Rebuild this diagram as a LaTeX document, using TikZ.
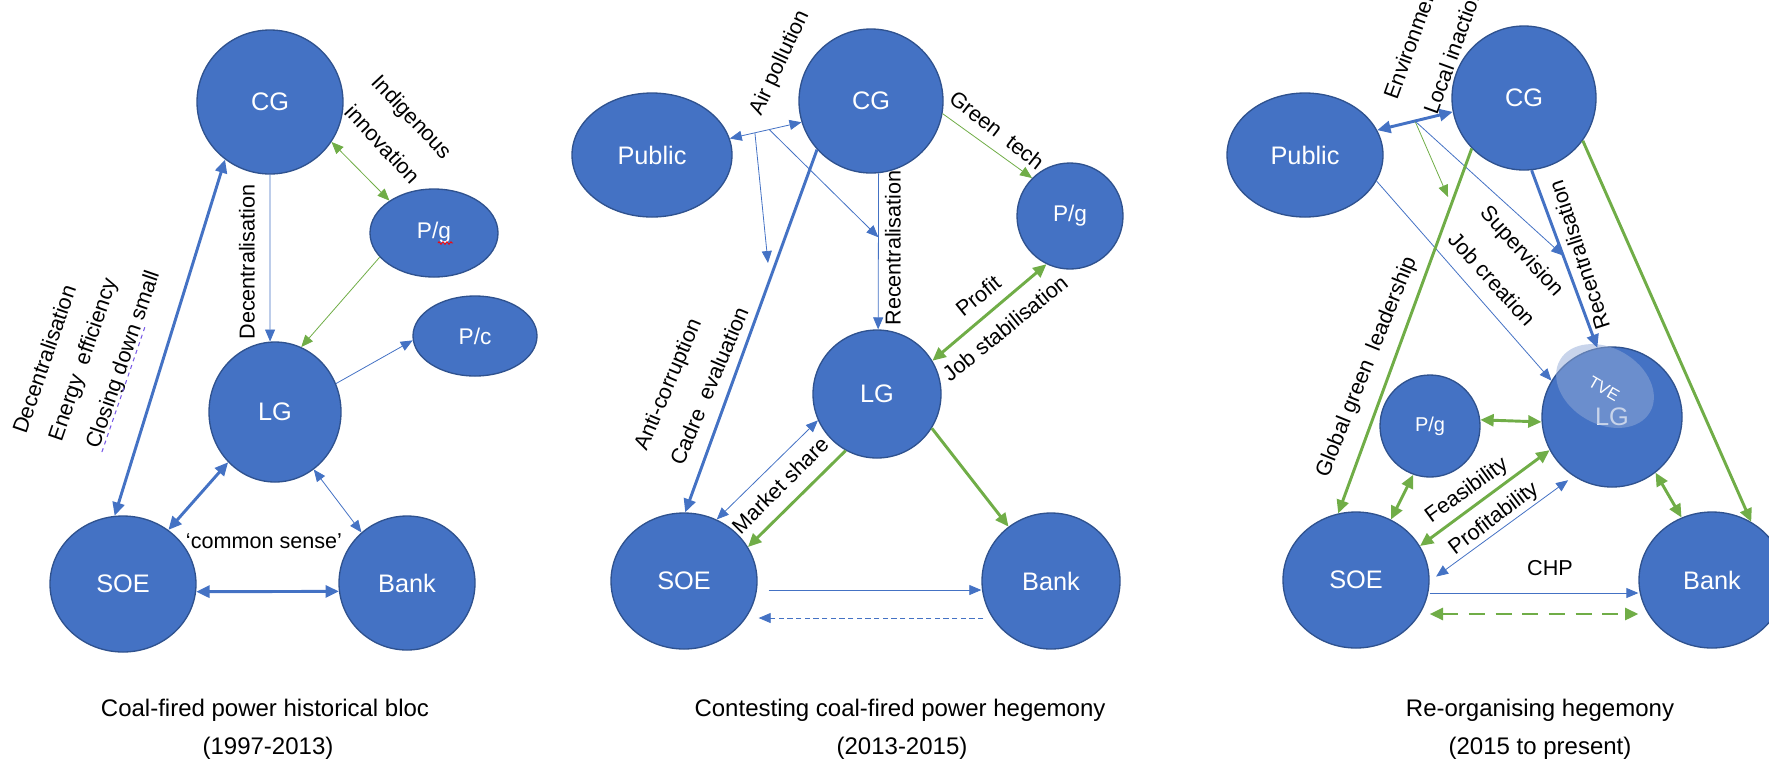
\documentclass[tikz,border=0pt]{standalone}
\usepackage{fontspec}
\setmainfont{Liberation Sans}
\usetikzlibrary{shapes.geometric,arrows.meta,calc,decorations.pathmorphing}
\definecolor{bfill}{HTML}{4472C4}
\definecolor{bline}{HTML}{2F528F}
\definecolor{ablue}{HTML}{4472C4}
\definecolor{agreen}{HTML}{70AD47}
\definecolor{tveover}{RGB}{146,170,215}
\definecolor{ulviolet}{RGB}{120,90,230}
\newcommand\nfont{\fontsize{19}{22}\selectfont}
\newcommand\pfont{\fontsize{17}{20}\selectfont}
\newcommand\lfont{\fontsize{16.2}{19}\selectfont}
\newcommand\tfont{\fontsize{18}{22}\selectfont}
\tikzset{
  actor/.style 2 args={ellipse, draw=bline, line width=1pt, fill=bfill, text=white,
    inner sep=0pt, minimum width=#1*1.5pt, minimum height=#2*1.5pt, font=\nfont},
  lbl/.style={font=\lfont, inner sep=0pt},
  ttl/.style={font=\tfont, inner sep=0pt},
  thinB/.style={draw=ablue, line width=0.6pt},
  thickB/.style={draw=ablue, line width=2.2pt},
  thinG/.style={draw=agreen, line width=0.6pt},
  thickG/.style={draw=agreen, line width=2.2pt},
  sarr/.style={-{Triangle[length=9pt,width=7.5pt]}},
  darr/.style={{Triangle[length=9pt,width=7.5pt]}-{Triangle[length=9pt,width=7.5pt]}},
  sarrT/.style={-{Triangle[length=10pt,width=9pt]}},
  darrT/.style={{Triangle[length=10pt,width=9pt]}-{Triangle[length=10pt,width=9pt]}}
}
\begin{document}
\begin{tikzpicture}[x=0.75pt,y=-0.75pt]
\useasboundingbox (0,0) rectangle (1769,769);
\begin{scope}
\clip (0,0) rectangle (1769,769);
% ---------------- Panel 1 ----------------
\node[actor={73}{72}] (cgA) at (270,102) {CG};
\node[actor={64}{44}, font=\pfont] (pgA) at (434,233) {P/g};
\node[actor={62}{40}, font=\pfont] (pcA) at (475,336) {P/c};
\node[actor={66}{70}] (lgA) at (275,412) {LG};
\node[actor={73}{68}] (soeA) at (123,584) {SOE};
\node[actor={68}{67}] (bankA) at (407,583) {Bank};
\draw[red, line width=0.6pt, decorate, decoration={zigzag, segment length=3pt, amplitude=1pt}]
  ([shift={(4,10)}]pgA.center) -- ([shift={(19,10)}]pgA.center);

\draw[thickB, darrT] (soeA.97) -- (cgA.232);
\draw[thinB, sarr] (cgA.270) -- (lgA.94);
\draw[thinG, darr] (cgA.327) -- (pgA.144);
\draw[thinG, sarr] (pgA.204) -- (lgA.68);
\draw[thinB, sarr] (lgA.25) -- (pcA.184);
\draw[thickB, darrT] (lgA.227) -- (soeA.50);
\draw[thinB, darr] (lgA.304) -- (bankA.132);
\draw[thickB, darrT] (soeA.354) -- (bankA.187);

\node[lbl, rotate=71] (l1a) at (44,359) {Decentralisation};
\node[lbl, rotate=71] (l1b) at (84,360) {Energy\ \ efficiency};
\node[lbl, rotate=71] (l1c) at (124,360) {Closing down small};
\draw[ulviolet, dashed, line width=0.8pt] ([shift={(3,2)}]l1c.base west) -- ++(43,-125);
\node[lbl, rotate=90] (l1d) at (247,262) {Decentralisation};
\node[lbl, rotate=-47] (l1e) at (411,118) {Indigenous};
\node[lbl, rotate=-47] (l1f) at (383,144) {innovation};
\node[lbl] (l1g) at (264,541) {‘common sense’};
\node[ttl] (t1a) at (265,710) {Coal-fired power historical bloc};
\node[ttl] (t1b) at (268,748) {(1997-2013)};

% ---------------- Panel 2 ----------------
\node[actor={80}{62}] (pubB) at (652,155) {Public};
\node[actor={72}{72}] (cgB) at (871,101) {CG};
\node[actor={53}{53}, font=\pfont] (pgB) at (1070,216) {P/g};
\node[actor={64}{64}] (lgB) at (877,394) {LG};
\node[actor={73}{68}] (soeB) at (684,581) {SOE};
\node[actor={69}{68}] (bankB) at (1051,581) {Bank};

\draw[thinB, darr] (pubB.12) -- (cgB.197);
\coordinate (p2a) at ($(pubB.12)!0.35!(cgB.197)$);
\coordinate (p2b) at ($(pubB.12)!0.55!(cgB.197)$);
\coordinate (p2c) at (768,263);
\coordinate (p2d) at ($(cgB.276)!0.41!(lgB.89)$);
\draw[thinB, sarr] (p2a) -- (p2c);
\draw[thinB, sarr] (p2b) -- (p2d);
\draw[thickB, sarrT] (cgB.222) -- (soeB.89);
\draw[thinB, sarr] (cgB.276) -- (lgB.89);
\draw[thinG, sarr] (cgB.350) -- (pgB.135);
\draw[thickG, darrT] (pgB.244) -- (lgB.31);
\draw[thinB, darr] (lgB.204) -- (soeB.62);
\draw[thickG, sarrT] (lgB.241) -- (soeB.28);
\draw[thickG, sarrT] (lgB.328) -- (bankB.128);
\draw[thinB, sarr] ([shift={(11,9)}]soeB.east) -- ([shift={(0,9)}]bankB.west);
\draw[thinB, sarr, dash pattern=on 4pt off 2.5pt] ([shift={(2,37)}]bankB.west) -- ([shift={(1,37)}]soeB.east);

\node[lbl, rotate=65] (l2a) at (780,63) {Air pollution};
\node[lbl, rotate=90] (l2b) at (893,248) {Recentralisation};
\node[lbl, rotate=-38] (l2c) at (997,130) {Green\ \ tech};
\node[lbl, rotate=39] (l2d) at (978,296) {Profit};
\node[lbl, rotate=39] (l2e) at (1005,328) {Job stabilisation};
\node[lbl, rotate=67] (l2f) at (669,385) {Anti-corruption};
\node[lbl, rotate=67] (l2g) at (709,386) {Cadre\ \ evaluation};
\node[lbl, rotate=45] (l2h) at (780,485) {Market share};
\node[ttl] (t2a) at (900,710) {Contesting coal-fired power hegemony};
\node[ttl] (t2b) at (902,748) {(2013-2015)};

% ---------------- Panel 3 ----------------
\node[actor={78}{62}] (pubC) at (1305,155) {Public};
\node[actor={72}{72}] (cgC) at (1524,98) {CG};
\node[actor={50}{51}, font=\fontsize{15}{18}\selectfont] (pgC) at (1430,426) {P/g};
\node[actor={70}{70}] (lgC) at (1612,417) {LG};
\node[actor={73}{68}] (soeC) at (1356,580) {SOE};
\node[actor={73}{68}] (bankC) at (1712,580) {Bank};
\node[ellipse, fill=tveover, opacity=0.5, inner sep=0pt, minimum width=78pt, minimum height=57pt, rotate=-30] (tve) at (1605,386) {};
\node[font=\fontsize{12.5}{14}\selectfont, text=white, rotate=-30, inner sep=0pt] (tvet) at (1604,389) {TVE};

\draw[thickB, darrT] (pubC.19) -- (cgC.191);
\coordinate (p3a) at ($(pubC.19)!0.5!(cgC.191)$);
\coordinate (p3g) at (1448,197);
\coordinate (p3b) at ($(cgC.276)!0.48!(lgC.102)$);
\draw[thinG, sarr] (p3a) -- (p3g);
\draw[thinB, sarr] (p3a) -- (p3b);
\draw[thinB, sarr] (pubC.340) -- (lgC.149);
\draw[thickB, sarrT] (cgC.276) -- (lgC.102);
\draw[thickG, sarrT] (cgC.224) -- (soeC.105);
\draw[thickG, sarrT] (cgC.324) -- (bankC.56);
\draw[thickG, darrT] (pgC.7) -- (lgC.184);
\draw[thickG, darrT] (pgC.251) -- (soeC.60);
\draw[thickG, darrT] (lgC.208) -- (soeC.28);
\draw[thinB, darr, shorten <=5pt, shorten >=6pt] (lgC.237) -- (soeC.359);
\draw[thickG, darrT] (lgC.308) -- (bankC.116);
\draw[thinB, sarr] ([shift={(0,13)}]soeC.east) -- ([shift={(0,13)}]bankC.west);
\draw[thickG, darrT, dash pattern=on 12pt off 8pt] ([shift={(0,34)}]soeC.east) -- ([shift={(0,34)}]bankC.west);

\node[lbl, rotate=70, anchor=base west] (l3a) at (1397,101) {Environmental};
\node[lbl, rotate=70, anchor=base west] (l3b) at (1437,116) {Local inaction};
\node[lbl, rotate=-48] (l3c) at (1521,252) {Supervision};
\node[lbl, rotate=-48] (l3d) at (1492,279) {Job creation};
\node[lbl, rotate=108] (l3e) at (1579,255) {Recentralisation};
\node[lbl, rotate=68] (l3f) at (1367,367) {Global green\ \ leadership};
\node[lbl, rotate=36] (l3g) at (1467,491) {Feasibility};
\node[lbl, rotate=37] (l3h) at (1494,519) {Profitability};
\node[lbl] (l3i) at (1550,568) {CHP};
\node[ttl] (t3a) at (1540,710) {Re-organising hegemony};
\node[ttl] (t3b) at (1540,748) {(2015 to present)};
\end{scope}
\end{tikzpicture}
\end{document}
